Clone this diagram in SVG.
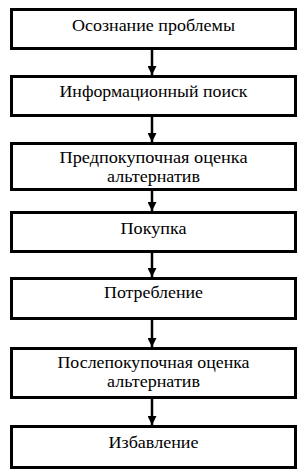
<svg xmlns="http://www.w3.org/2000/svg" width="308" height="476" viewBox="0 0 308 476">
<defs>
<style>
.box{fill:#fff;stroke:#000;stroke-width:3}
.t{font-family:"Liberation Serif","Times New Roman",serif;font-size:17px;fill:#000;text-anchor:middle}
.c{stroke:#000;stroke-width:2.5;fill:none}
</style>
<marker id="ah" viewBox="0 0 10 10" refX="10" refY="5" markerWidth="9" markerHeight="9" markerUnits="userSpaceOnUse" orient="auto">
<path d="M0,0 L10,5 L0,10 Z" fill="#000"/>
</marker>
</defs>
<rect width="308" height="476" fill="#fff"/>
<g id="connectors">
<line class="c" x1="152" y1="50" x2="152" y2="75" marker-end="url(#ah)"/>
<line class="c" x1="152" y1="117" x2="152" y2="142" marker-end="url(#ah)"/>
<line class="c" x1="152" y1="191" x2="152" y2="211" marker-end="url(#ah)"/>
<line class="c" x1="152" y1="253" x2="152" y2="277" marker-end="url(#ah)"/>
<line class="c" x1="152" y1="320" x2="152" y2="347" marker-end="url(#ah)"/>
<line class="c" x1="152" y1="399" x2="152" y2="425" marker-end="url(#ah)"/>
</g>
<g id="n1"><rect class="box" x="11.5" y="9.5" width="284" height="39"/><text class="t" x="153.5" y="30.5" textLength="163" lengthAdjust="spacingAndGlyphs">Осознание проблемы</text></g>
<g id="n2"><rect class="box" x="11.5" y="76.5" width="284" height="39"/><text class="t" x="153.5" y="97" textLength="188" lengthAdjust="spacingAndGlyphs">Информационный поиск</text></g>
<g id="n3"><rect class="box" x="11.5" y="143.5" width="284" height="46"/><text class="t" x="153.5" y="163" textLength="188" lengthAdjust="spacingAndGlyphs">Предпокупочная оценка</text><text class="t" x="153.5" y="182" textLength="93" lengthAdjust="spacingAndGlyphs">альтернатив</text></g>
<g id="n4"><rect class="box" x="11.5" y="212.5" width="284" height="39"/><text class="t" x="153.5" y="234" textLength="66" lengthAdjust="spacingAndGlyphs">Покупка</text></g>
<g id="n5"><rect class="box" x="11.5" y="278.5" width="284" height="40"/><text class="t" x="153.5" y="298" textLength="99" lengthAdjust="spacingAndGlyphs">Потребление</text></g>
<g id="n6"><rect class="box" x="11.5" y="348.5" width="284" height="49"/><text class="t" x="153.5" y="368" textLength="192" lengthAdjust="spacingAndGlyphs">Послепокупочная оценка</text><text class="t" x="153.5" y="387" textLength="93" lengthAdjust="spacingAndGlyphs">альтернатив</text></g>
<g id="n7"><rect class="box" x="11.5" y="426.5" width="284" height="41"/><text class="t" x="153.5" y="448" textLength="90" lengthAdjust="spacingAndGlyphs">Избавление</text></g>
</svg>
